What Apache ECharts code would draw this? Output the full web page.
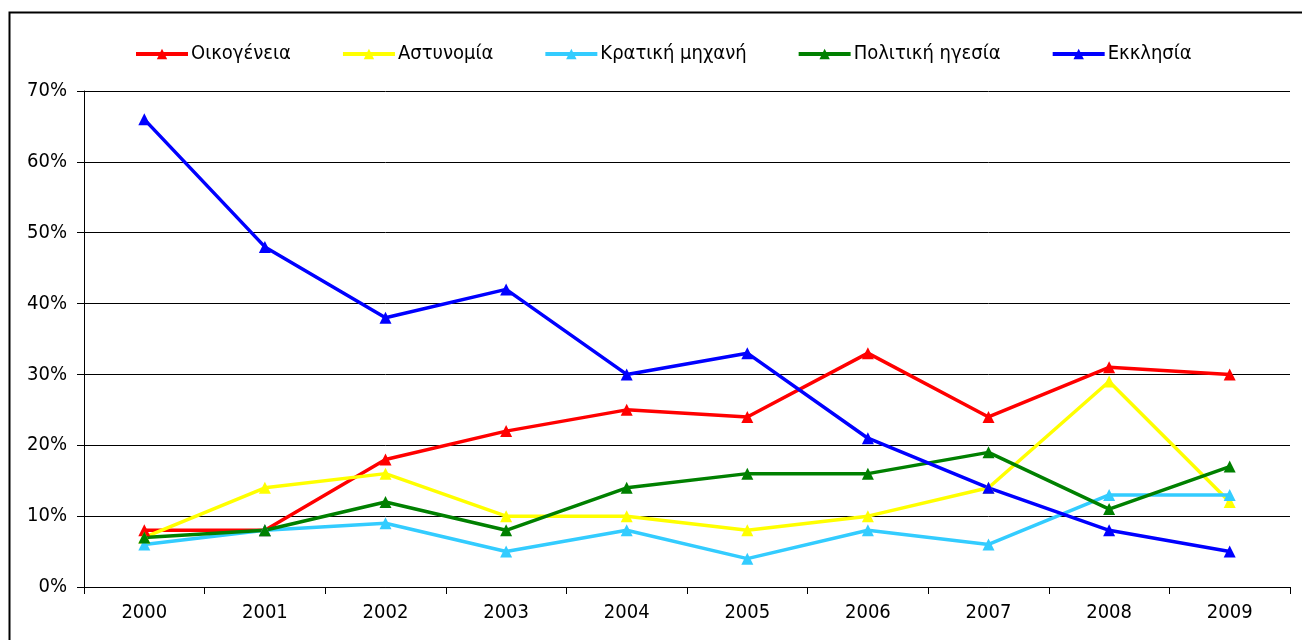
<!DOCTYPE html>
<html>
<head>
<meta charset="utf-8">
<script src="https://cdn.jsdelivr.net/npm/echarts@6/dist/echarts.min.js"></script>
<style>
html,body{margin:0;padding:0;background:#fff;}
#chart{width:1302px;height:640px;}
</style>
</head>
<body>
<div id="chart"></div>
<script>
const years = ['2000','2001','2002','2003','2004','2005','2006','2007','2008','2009'];
const seriesNames = ['Οικογένεια','Αστυνομία','Κρατική μηχανή','Πολιτική ηγεσία','Εκκλησία'];
const oikogeneia = [8, 8, 18, 22, 25, 24, 33, 24, 31, 30];
const astynomia = [7, 14, 16, 10, 10, 8, 10, 14, 29, 12];
const kratikiMichani = [6, 8, 9, 5, 8, 4, 8, 6, 13, 13];
const politikiIgesia = [7, 8, 12, 8, 14, 16, 16, 19, 11, 17];
const ekklisia = [66, 48, 38, 42, 30, 33, 21, 14, 8, 5];
const yTicks = [0, 10, 20, 30, 40, 50, 60, 70];

const values = [oikogeneia, astynomia, kratikiMichani, politikiIgesia, ekklisia];
const colors = ['#FF0000', '#FFFF00', '#33CCFF', '#008000', '#0000FF'];
const FONT = "'DejaVu Sans Condensed', 'DejaVu Sans'";

const chart = echarts.init(document.getElementById('chart'), null, {renderer: 'canvas'});
chart.setOption({
  animation: false,
  textStyle: {fontFamily: FONT},
  graphic: [{
    type: 'rect', left: 7, top: 10, z: -1,
    shape: {width: 1294, height: 640},
    style: {fill: 'none', stroke: '#000', lineWidth: 2}
  }],
  legend: {
    top: 39, left: 129,
    itemWidth: 52, itemHeight: 13, itemGap: 50,
    lineStyle: {width: 4},
    textStyle: {fontFamily: FONT, fontSize: 20, color: '#000', padding: [0, 0, 0, -2]},
    data: seriesNames
  },
  grid: {left: 84, right: 12, top: 91, bottom: 53, containLabel: false},
  xAxis: {
    type: 'category', data: years, boundaryGap: true,
    axisLine: {lineStyle: {color: '#000', width: 1}},
    axisTick: {show: true, length: 7, lineStyle: {color: '#000'}},
    axisLabel: {fontFamily: FONT, fontSize: 20, color: '#000', margin: 16}
  },
  yAxis: {
    type: 'value', min: 0, max: 70, interval: 10,
    axisLine: {show: true, lineStyle: {color: '#000', width: 1}},
    axisTick: {show: true, length: 7, lineStyle: {color: '#000'}},
    axisLabel: {fontFamily: FONT, fontSize: 20, color: '#000', margin: 17,
      formatter: v => yTicks.includes(v) ? v + '%' : ''},
    splitLine: {show: true, lineStyle: {color: '#000', width: 1}}
  },
  series: seriesNames.map((n, i) => ({
    name: n, type: 'line', data: values[i],
    symbol: 'triangle', symbolSize: 12,
    lineStyle: {color: colors[i], width: 3.5},
    itemStyle: {color: colors[i]},
    emphasis: {disabled: true}
  }))
});
</script>
</body>
</html>
